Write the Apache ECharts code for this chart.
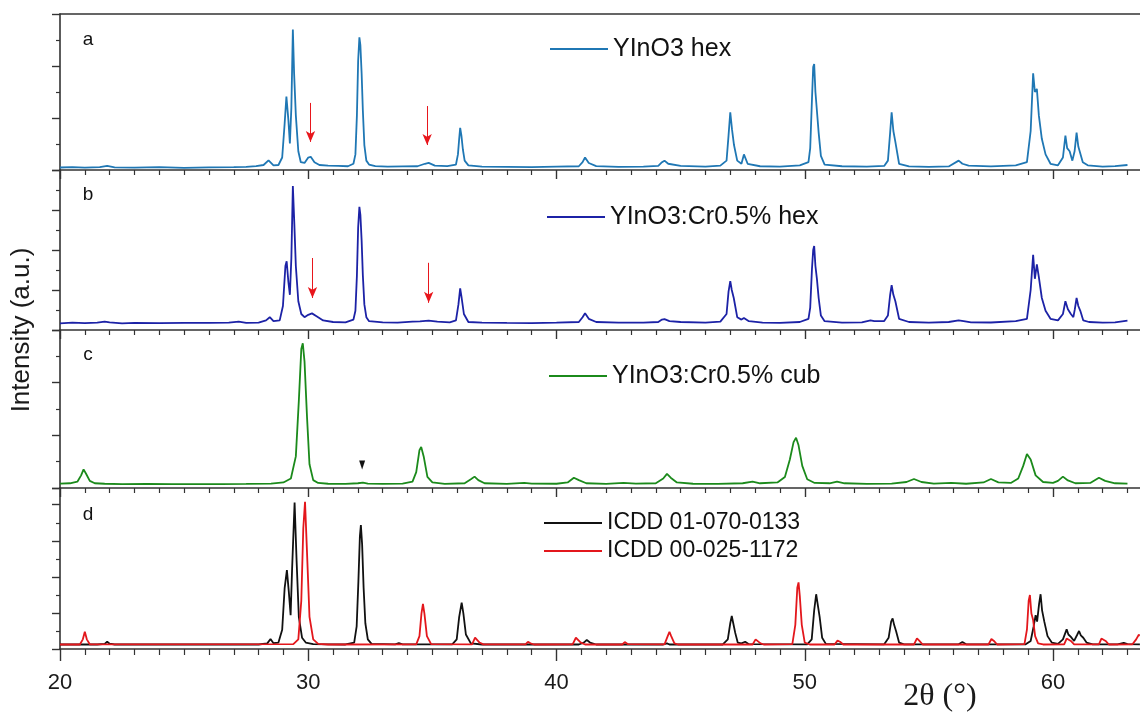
<!DOCTYPE html>
<html><head><meta charset="utf-8">
<script src="https://cdn.jsdelivr.net/npm/echarts@6/dist/echarts.min.js"></script>
<style>html,body{margin:0;padding:0;background:#fff}#c{width:1140px;height:717px}</style>
</head><body><div id="c"></div>
<script>
// ---- data (2θ in degrees, intensity in % of panel height) ----
const seriesNames = ['YInO3 hex', 'YInO3:Cr0.5% hex', 'YInO3:Cr0.5% cub', 'ICDD 01-070-0133', 'ICDD 00-025-1172'];
const panelLetters = ['a', 'b', 'c', 'd'];
const xTickLabels = [20, 30, 40, 50, 60];

const hexA = [[20.0,1.6],[20.5,1.9],[21.0,1.5],[21.6,1.8],[21.9,2.6],[22.2,1.7],[23.0,1.5],[24.0,1.8],[25.0,1.4],[26.0,1.7],[27.0,1.8],[27.5,2.0],[27.9,2.5],[28.2,3.2],[28.4,6.2],[28.6,3.0],[28.8,3.2],[28.95,8],[29.05,30],[29.12,47],[29.2,32],[29.26,17],[29.32,40],[29.38,90],[29.43,62],[29.5,35],[29.6,12],[29.7,5],[29.85,4.5],[30.0,8],[30.1,8.5],[30.25,5],[30.45,3.2],[30.8,2.8],[31.2,2.6],[31.6,2.4],[31.82,4],[31.9,10],[31.96,35],[32.01,70],[32.06,85],[32.1,80],[32.15,62],[32.2,38],[32.26,16],[32.34,6],[32.45,3.5],[32.7,2.5],[33.2,2.2],[33.8,2.3],[34.4,2.4],[34.7,4],[34.85,4.6],[35.1,2.8],[35.6,2.5],[35.95,3.5],[36.03,10],[36.08,20],[36.12,27],[36.17,22],[36.23,13],[36.3,6],[36.45,3],[37.0,2.2],[38.0,2.0],[39.0,1.8],[40.0,2.2],[40.9,2.4],[41.05,5],[41.15,8],[41.3,4.5],[41.6,2.5],[42.5,2.0],[43.5,2.2],[44.1,2.6],[44.25,5],[44.35,6],[44.5,4],[45.0,2.6],[46.0,2.2],[46.6,2.8],[46.85,6],[46.93,22],[47.0,37],[47.07,26],[47.15,16],[47.28,6],[47.45,4],[47.55,10],[47.7,4],[48.2,2.4],[49.0,2.2],[49.8,3],[50.15,5],[50.22,14],[50.29,45],[50.34,66],[50.38,68],[50.43,50],[50.49,38],[50.56,24],[50.65,9],[50.8,3.5],[51.5,2.4],[52.5,2.2],[53.2,2.6],[53.35,6],[53.44,24],[53.5,37],[53.57,25],[53.65,18],[53.8,4],[54.2,2.3],[55.0,2.0],[55.8,2.3],[56.2,6],[56.35,4],[56.6,2.8],[57.5,2.3],[58.5,3],[58.95,5],[59.1,25],[59.2,62],[59.27,50],[59.35,52],[59.43,35],[59.55,20],[59.7,10],[59.9,4],[60.2,3],[60.4,8],[60.5,22],[60.57,14],[60.67,12],[60.78,6],[60.87,12],[60.95,24],[61.02,15],[61.1,14],[61.2,5],[61.4,3],[62.0,2.2],[62.5,2.5],[63.0,3.2]];

const hexB = [[20.0,4.2],[20.5,4.6],[21.0,4.3],[21.5,4.6],[21.8,5.2],[22.0,4.8],[22.5,4.2],[23.0,4.5],[24.0,4.3],[25.0,4.4],[26.0,4.5],[26.8,4.6],[27.2,5.2],[27.5,4.5],[28.0,4.6],[28.3,6],[28.45,8],[28.6,5.5],[28.85,6],[28.98,15],[29.08,40],[29.13,43],[29.2,30],[29.26,22],[29.32,45],[29.38,90],[29.44,66],[29.5,40],[29.6,18],[29.72,10],[29.85,8],[30.0,9.5],[30.15,10.4],[30.35,8.5],[30.6,6],[31.0,5],[31.5,4.8],[31.82,6.5],[31.9,12],[31.96,34],[32.01,64],[32.06,77],[32.1,72],[32.15,56],[32.2,34],[32.26,16],[32.34,8],[32.45,5.5],[33.0,4.8],[33.6,4.6],[34.2,5.2],[34.5,5.4],[34.85,5.8],[35.2,5.2],[35.7,4.8],[35.95,6],[36.05,16],[36.12,26],[36.18,20],[36.27,10],[36.45,5],[37.0,4.6],[38.0,4.4],[39.0,4.3],[40.0,4.6],[40.9,5],[41.05,8],[41.15,10.5],[41.3,7],[41.6,5],[42.5,4.6],[43.5,4.6],[44.1,5],[44.25,6.5],[44.35,6.8],[44.55,5.6],[45.0,5],[46.0,4.6],[46.6,5.2],[46.85,10],[46.93,24],[47.0,30.6],[47.06,25],[47.14,20],[47.28,8],[47.45,6.5],[47.55,7.5],[47.75,5.5],[48.3,4.6],[49.0,4.4],[49.8,5],[50.15,7],[50.22,14],[50.29,38],[50.34,50],[50.38,52.5],[50.43,40],[50.49,32],[50.56,20],[50.65,9],[50.8,5.5],[51.5,4.6],[52.3,4.8],[52.65,6],[52.8,5.5],[53.2,5.6],[53.35,9],[53.44,22],[53.5,28],[53.57,22],[53.65,18],[53.8,7],[54.2,5],[55.0,4.6],[55.8,5],[56.2,6],[56.4,5.6],[56.7,4.8],[57.5,4.7],[58.5,5.5],[58.95,7],[59.1,25],[59.2,47],[59.27,32],[59.35,41],[59.43,33],[59.55,20],[59.7,12],[59.9,7],[60.2,6],[60.4,10],[60.5,18],[60.6,13],[60.72,10],[60.82,8],[60.88,13],[60.95,20],[61.02,15],[61.1,12],[61.22,6],[61.45,5],[62.0,4.6],[62.5,4.8],[63.0,5.8]];

const cubC = [[20.0,2.8],[20.4,3.0],[20.7,4],[20.85,8],[20.95,11.8],[21.05,9],[21.2,4.5],[21.4,3],[21.8,2.7],[22.5,2.5],[23.5,2.6],[24.5,2.4],[25.5,2.5],[26.5,2.5],[27.5,2.6],[28.5,2.8],[29.0,3.5],[29.3,6],[29.5,20],[29.62,55],[29.72,88],[29.78,91.6],[29.85,80],[29.95,45],[30.05,15],[30.2,5],[30.4,3.2],[30.8,2.7],[31.5,2.6],[32.0,3],[32.2,3.4],[32.4,2.8],[33.0,2.6],[33.8,2.8],[34.2,4],[34.35,10],[34.48,24],[34.55,26],[34.65,20],[34.8,7],[35.0,3.5],[35.5,2.6],[36.3,3],[36.55,5.5],[36.7,7.2],[36.85,5],[37.1,3],[38.0,2.6],[38.7,3.2],[39.0,2.8],[40.0,2.7],[40.45,3.5],[40.7,6.5],[40.9,5],[41.2,3],[42.0,2.6],[42.7,3.3],[43.2,2.8],[44.0,3],[44.3,6],[44.45,8.9],[44.6,6.5],[44.85,3.5],[45.5,2.7],[46.5,2.6],[47.5,3],[47.9,4],[48.2,3],[48.9,3.5],[49.2,7],[49.4,18],[49.55,29],[49.65,31.8],[49.75,27],[49.9,14],[50.1,5.5],[50.4,3.2],[51.0,3],[51.3,4],[51.6,3],[52.5,2.6],[53.5,2.8],[54.1,3.8],[54.4,5.7],[54.7,3.8],[55.2,2.8],[55.9,3.3],[56.5,2.7],[57.2,3.5],[57.5,5.7],[57.8,3.6],[58.3,3.2],[58.6,6],[58.8,14],[58.95,21.5],[59.1,18],[59.3,8],[59.6,3.8],[60.0,3.2],[60.2,4.5],[60.4,7.2],[60.6,4.8],[60.9,3],[61.5,3.2],[61.85,6.5],[62.1,4.5],[62.5,3],[63.0,2.8]];

const icdd0133 = [[20.0,2.8],[21.5,2.8],[21.8,3.2],[21.9,4.5],[22.0,3.3],[22.2,2.8],[23.5,2.8],[25.0,2.8],[26.5,2.8],[28.0,2.8],[28.35,3.5],[28.48,6.2],[28.6,3.6],[28.8,4],[28.95,12],[29.05,38],[29.14,49],[29.22,35],[29.29,21],[29.35,50],[29.45,91],[29.53,55],[29.62,20],[29.75,7],[29.9,4],[30.2,3],[31.5,2.8],[31.85,4],[31.95,14],[32.02,42],[32.08,70],[32.12,77],[32.17,65],[32.23,38],[32.3,16],[32.4,6],[32.55,3.2],[33.5,2.9],[33.65,3.6],[33.8,2.9],[35.8,2.9],[35.98,6],[36.08,20],[36.18,28.8],[36.25,22],[36.35,9],[36.55,3.5],[37.0,2.8],[40.9,2.8],[41.1,4],[41.22,5.6],[41.35,4],[41.6,2.8],[44.3,2.8],[44.45,3.5],[44.55,2.8],[46.7,2.8],[46.9,6],[47.0,16],[47.06,20.5],[47.12,16],[47.2,10],[47.3,4],[47.45,3.5],[47.6,4.5],[47.75,3],[50.1,2.9],[50.28,6],[50.38,24],[50.46,34],[50.53,27],[50.6,20],[50.7,7],[50.85,3.2],[53.2,2.9],[53.38,7],[53.48,17],[53.54,19],[53.6,15],[53.68,11],[53.8,4],[54.0,2.9],[56.2,2.9],[56.35,4.3],[56.5,2.9],[58.9,2.9],[59.1,5],[59.22,14],[59.3,21],[59.36,17],[59.44,28],[59.5,34],[59.56,24],[59.65,17],[59.78,8],[59.95,4],[60.2,3.2],[60.4,6],[60.55,12.2],[60.62,9],[60.72,7.5],[60.85,5],[60.98,9],[61.05,11.2],[61.12,8.5],[61.22,7],[61.35,4],[61.6,2.9],[62.6,2.9],[62.85,3.8],[63.0,3],[63.5,2.9]];

const icdd1172 = [[20.0,2.8],[20.8,2.8],[20.92,6],[21.0,10.7],[21.08,6],[21.2,2.9],[29.4,3],[29.6,6],[29.72,30],[29.8,75],[29.87,91.5],[29.95,60],[30.05,20],[30.2,6],[30.4,3.2],[30.8,2.8],[34.35,2.9],[34.48,8],[34.56,22],[34.62,28],[34.68,22],[34.78,8],[34.95,3],[36.6,2.9],[36.72,7],[36.8,7.6],[36.9,4],[37.05,2.9],[38.75,2.9],[38.85,4.5],[38.95,3.5],[39.1,2.8],[40.65,2.9],[40.78,7],[40.85,7.6],[40.98,4],[41.15,2.8],[42.65,2.8],[42.75,4.3],[42.88,3],[44.35,2.9],[44.48,8],[44.55,10.7],[44.62,8],[44.75,3.5],[44.9,2.8],[47.9,2.8],[48.02,6],[48.1,6.2],[48.22,3.5],[48.35,2.8],[49.5,3],[49.62,15],[49.7,38],[49.75,41.4],[49.8,33],[49.88,15],[50.0,4],[50.2,2.8],[51.2,2.8],[51.32,5.2],[51.42,4.5],[51.55,2.8],[54.4,2.8],[54.52,6.6],[54.62,5],[54.75,2.8],[57.4,2.8],[57.52,6.2],[57.62,5],[57.75,2.8],[58.85,3],[58.95,12],[59.02,30],[59.07,33.5],[59.13,22],[59.2,18],[59.28,8],[59.4,3.5],[59.6,2.8],[60.45,2.9],[60.55,6.5],[60.62,7.6],[60.72,5],[60.85,2.9],[61.85,2.9],[61.95,6.5],[62.02,7],[62.12,5],[62.25,2.8],[63.2,2.9],[63.35,6],[63.45,8.7],[63.5,8.5]];

// annotations: [2θ, start intensity, end intensity]
const arrowsA = [[30.09, 43, 18], [34.79, 41, 16]];
const arrowsB = [[30.17, 45, 20], [34.85, 42, 17]];
const markerC = [[32.17, 14.6]];

// ---- layout / style ----
const FONT = '"Liberation Sans", Arial, Helvetica, sans-serif';
const AX = '#333';
const colors = ['#1f77b4', '#1c22a6', '#1b8a1b', '#111111', '#e3171c'];
const PXDEG = 24.825;
const gridLeft = 60;
const grids = [
  { top: 14, height: 156 },
  { top: 170, height: 160 },
  { top: 330, height: 158 },
  { top: 488, height: 161 }
].map(g => ({ left: gridLeft, width: PXDEG * 50, top: g.top, height: g.height, containLabel: false, outerBoundsMode: 'none' }));
const yIntervals = [100 / 3, 25, 100 / 3, 22.4];

const xAxes = grids.map((g, i) => {
  const bottom = i === 3;
  return {
    type: 'value', gridIndex: i, min: 20, max: 70, interval: 10,
    axisLine: { show: true, onZero: false, lineStyle: { color: AX, width: 1.6 } },
    axisTick: { show: true, inside: false, length: bottom ? 12 : 9, lineStyle: { color: AX, width: 1.4 } },
    minorTick: { show: true, splitNumber: 10, length: bottom ? 6 : 5, lineStyle: { color: AX, width: 1.2 } },
    axisLabel: {
      show: bottom, fontSize: 22, color: '#1a1a1a', fontFamily: FONT, margin: 23,
      formatter: v => (xTickLabels.indexOf(Math.round(v)) >= 0 && Math.abs(v - Math.round(v)) < 1e-6) ? String(Math.round(v)) : ''
    },
    splitLine: { show: false }
  };
});
xAxes.push({
  type: 'value', gridIndex: 0, position: 'top', min: 20, max: 70,
  axisLine: { show: true, onZero: false, lineStyle: { color: AX, width: 1.6 } },
  axisTick: { show: false }, axisLabel: { show: false }, splitLine: { show: false }
});

const yAxes = grids.map((g, i) => ({
  type: 'value', gridIndex: i, min: 0, max: 100, interval: yIntervals[i],
  axisLine: { show: true, onZero: false, lineStyle: { color: AX, width: 1.6 } },
  axisTick: { show: true, inside: false, length: 8, lineStyle: { color: AX, width: 1.4 } },
  minorTick: { show: true, splitNumber: 2, length: 4, lineStyle: { color: AX, width: 1.2 } },
  axisLabel: { show: false },
  splitLine: { show: false }
}));

const arrowLine = arr => arr.map(a => [{ coord: [a[0], a[1]] }, { coord: [a[0], a[2]] }]);
const mkArrows = arr => ({
  silent: true, animation: false, symbol: ['none', 'arrow'], symbolSize: [7, 11],
  lineStyle: { color: '#e8161c', width: 1, type: 'solid' }, label: { show: false },
  emphasis: { disabled: true }, data: arrowLine(arr)
});

const dataSets = [hexA, hexB, cubC, icdd0133, icdd1172];
const panelOf = [0, 1, 2, 3, 3];
const series = dataSets.map((d, i) => ({
  name: seriesNames[i], type: 'line', xAxisIndex: panelOf[i], yAxisIndex: panelOf[i],
  data: d, symbol: 'none', showSymbol: false, smooth: false, clip: true,
  lineStyle: { color: colors[i], width: 1.8 }, itemStyle: { color: colors[i] },
  emphasis: { disabled: true }, z: 3 + i
}));
series[0].markLine = mkArrows(arrowsA);
series[1].markLine = mkArrows(arrowsB);
series[2].markPoint = {
  silent: true, animation: false, symbol: 'triangle', symbolRotate: 180, symbolSize: [6, 9],
  itemStyle: { color: '#111' }, label: { show: false },
  data: markerC.map(m => ({ coord: m }))
};

const legendBase = (names, left, top, fs) => ({
  data: names.map(n => ({ name: n, icon: 'rect' })), left: left, top: top, orient: 'vertical',
  itemWidth: 58, itemHeight: 2, itemGap: 0, selectedMode: false,
  textStyle: { fontSize: fs, lineHeight: 28, color: '#111', fontFamily: FONT }
});

const labelPos = [[88, 40], [88, 195], [88, 355], [88, 515]];

const option = {
  animation: false,
  backgroundColor: '#fff',
  grid: grids,
  xAxis: xAxes,
  yAxis: yAxes,
  legend: [
    legendBase([seriesNames[0]], 545, 30, 25),
    legendBase([seriesNames[1]], 542, 198, 25),
    legendBase([seriesNames[2]], 544, 357, 25),
    legendBase([seriesNames[3], seriesNames[4]], 539, 504, 23)
  ],
  graphic: [
    ...panelLetters.map((t, i) => ({
      type: 'text', x: labelPos[i][0], y: labelPos[i][1],
      style: { text: t, font: '19px ' + FONT, fill: '#111', textAlign: 'center', textVerticalAlign: 'middle' }
    })),
    {
      type: 'text', x: 22, y: 330, rotation: Math.PI / 2,
      style: { text: 'Intensity (a.u.)', font: '26px ' + FONT, fill: '#1a1a1a', textAlign: 'center', textVerticalAlign: 'middle' }
    },
    {
      type: 'text', x: 940, y: 697,
      style: { text: '2θ (°)', font: '32px "Liberation Serif", "Times New Roman", serif', fill: '#1a1a1a', textAlign: 'center', textVerticalAlign: 'middle' }
    }
  ],
  series: series
};

const chart = echarts.init(document.getElementById('c'), null, { renderer: 'canvas' });
chart.setOption(option);
</script>
</body></html>
